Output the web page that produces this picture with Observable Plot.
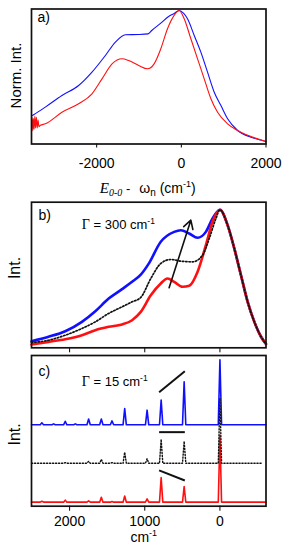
<!DOCTYPE html>
<html><head><meta charset="utf-8">
<script src="https://cdn.jsdelivr.net/npm/d3@7"></script>
<script src="https://cdn.jsdelivr.net/npm/@observablehq/plot@0.6"></script>
<style>
body{margin:0;background:#fff}
#chart{position:relative;width:288px;height:550px;overflow:hidden}
#chart svg{position:absolute;left:0;overflow:visible}
</style></head><body><div id="chart"></div>
<script>
// ---------- Panel a: normalized emission spectra vs E0-0 - ωn (cm-1)
const aTicks = [-2000, 0, 2000];
const aBlueX = [-3540,-3491,-3214,-2821,-2426,-2111,-1794,-1558,-1321,-1006,-786,-700,-485,-300,-170,-50,50,146,304,461,619,777,935,1093,1330,1645,2000];
const aBlueY = [0.21,0.219,0.276,0.363,0.438,0.538,0.663,0.763,0.818,0.82,0.825,0.85,0.905,0.955,0.978,1.0,0.98,0.938,0.813,0.688,0.538,0.388,0.288,0.189,0.101,0.051,0.019];
const aRedX = [-3540,-3525,-3510,-3495,-3480,-3460,-3445,-3425,-3405,-3385,-3365,-3330,-3214,-2821,-2426,-2111,-1874,-1637,-1400,-1243,-1006,-800,-643,-485,-327,-170,-52,67,225,383,540,698,856,1093,1330,1645,2000];
const aRedY = [0.13,0.20,0.10,0.19,0.11,0.21,0.12,0.20,0.12,0.18,0.13,0.14,0.151,0.238,0.301,0.376,0.488,0.60,0.638,0.625,0.588,0.563,0.60,0.713,0.863,0.963,1.0,0.938,0.788,0.638,0.488,0.339,0.238,0.151,0.101,0.056,0.019];

// ---------- Panel b: simulated spectra, Γ = 300 cm-1
const bTicks = [2000, 1000, 0];
const bBlueX = [2507,2280,2058,1836,1658,1480,1302,1169,1053,947,787,609,520,409,297,187,98,0,-102,-191,-280,-369,-458,-547,-613];
const bBlueY = [0.048,0.08,0.12,0.188,0.265,0.357,0.425,0.478,0.53,0.61,0.768,0.84,0.852,0.828,0.797,0.84,0.937,1.0,0.889,0.72,0.526,0.333,0.188,0.08,0.028];
const bRedX = [2507,2280,2058,1836,1658,1480,1302,1169,1053,920,787,697,609,497,409,297,187,98,0,-102,-191,-280,-369,-458,-547,-613];
const bRedY = [0.024,0.043,0.062,0.091,0.128,0.152,0.169,0.2,0.26,0.38,0.466,0.502,0.478,0.442,0.449,0.551,0.744,0.913,1.0,0.889,0.72,0.526,0.333,0.188,0.08,0.028];
const bBlackX = [2507,2280,2058,1836,1658,1480,1302,1169,1053,920,787,653,520,364,231,142,53,0,-102,-191,-280,-369,-458,-547,-613];
const bBlackY = [0.038,0.055,0.091,0.14,0.188,0.249,0.297,0.333,0.365,0.502,0.611,0.64,0.628,0.623,0.671,0.792,0.937,1.0,0.889,0.72,0.526,0.333,0.188,0.08,0.028];
const bArrow = [{x1: 676, y1: 0.435, x2: 387, y2: 0.925}];

// ---------- Panel c: simulated spectra, Γ = 15 cm-1 (peak positions and heights)
const cTicks = [2000, 1000, 0];
const cPeakPos = [2369, 2213, 2058, 1924, 1747, 1578, 1436, 1267, 969, 782, 476, 0];
const cBlueH  = [0.03, 0.015, 0.055, 0.015, 0.09, 0.09, 0.06, 0.25, 0.225, 0.38, 0.66, 1.0];
const cBlackH = [0, 0, 0.01, 0, 0.03, 0.06, 0.01, 0.17, 0.07, 0.37, 0.34, 1.0];
const cRedH   = [0.015, 0, 0.03, 0, 0.02, 0.075, 0.01, 0.095, 0.05, 0.38, 0.24, 1.03];
const cOffsets = {blue: 1.19, black: 0.598, red: 0};
const cSegments = [
  {x1: 809, y1: 1.692, x2: 467, y2: 2.015},
  {x1: 809, y1: 1.077, x2: 467, y2: 1.077},
  {x1: 809, y1: 0.488, x2: 467, y2: 0.334}
];

// ---------- helpers
const BLUE = "#1010ff", RED = "#ff1010";
const SANS = '"Liberation Sans", Arial, Helvetica, sans-serif';
const SERIF = '"Liberation Serif", "Times New Roman", serif';
const zip = (xs, ys) => xs.map((x, i) => ({x, y: ys[i]}));
const PW = 22; // half-width of drawn peaks (style)
function spectrum(heights, offset, xStart, xEnd) {
  const pts = [{x: xStart, y: offset}];
  cPeakPos.forEach((p, i) => {
    if (heights[i] > 0) pts.push({x: p + PW, y: offset}, {x: p, y: offset + heights[i]}, {x: p - PW, y: offset});
  });
  pts.push({x: xEnd, y: offset});
  return pts;
}
function richify(svg, key, parts) {
  svg.querySelectorAll("text").forEach(t => {
    if (t.textContent !== key) return;
    while (t.firstChild) t.removeChild(t.firstChild);
    for (const [s, attrs] of parts) {
      const ts = document.createElementNS("http://www.w3.org/2000/svg", "tspan");
      ts.textContent = s;
      for (const k in attrs) ts.setAttribute(k, attrs[k]);
      t.appendChild(ts);
    }
  });
}
const baseStyle = {background: "transparent", fontFamily: SANS, fontSize: "14px", color: "black"};
const chart = document.getElementById("chart");

// ---------- Panel a
const svgA = Plot.plot({
  width: 288, height: 200,
  marginLeft: 31, marginRight: 22.5, marginTop: 8.5, marginBottom: 56.5,
  style: baseStyle,
  x: {domain: [-3540, 2000], ticks: aTicks, tickSize: 4, tickPadding: 10, tickFormat: d => String(d), label: null},
  y: {domain: [0, 1.011], axis: null},
  marks: [
    Plot.line(zip(aBlueX, aBlueY), {x: "x", y: "y", stroke: BLUE, strokeWidth: 1.1, curve: "monotone-x"}),
    Plot.line(zip(aRedX, aRedY), {x: "x", y: "y", stroke: RED, strokeWidth: 1.1, curve: "monotone-x"}),
    Plot.frame({stroke: "#111", strokeWidth: 1.7}),
    Plot.text(["a)"], {frameAnchor: "top-left", textAnchor: "start", lineAnchor: "top", dx: 6, dy: 3, fontSize: 14}),
    Plot.text(["Norm. Int."], {frameAnchor: "left", rotate: -90, textAnchor: "middle", lineAnchor: "middle", dx: -15, dy: -1, fontSize: 15}),
    Plot.text(["E0-0 - ωn (cm-1)"], {frameAnchor: "bottom", textAnchor: "middle", lineAnchor: "middle", dy: 45, dx: -1, fontSize: 14})
  ]
});
richify(svgA, "E0-0 - ωn (cm-1)", [
  ["E", {"font-family": SERIF, "font-style": "italic", "font-size": 15}],
  ["0-0", {"font-family": SERIF, "font-style": "italic", "font-size": 10, dy: 3}],
  [" -", {dy: -3, "font-size": 13}],
  ["ω", {dx: 9, "font-size": 14}],
  ["n", {"font-size": 10, dy: 3}],
  [" (cm", {dy: -3, "font-size": 14}],
  ["-1", {"font-size": 9, dy: -6}],
  [")", {dy: 6, "font-size": 14}]
]);
svgA.style.top = "0px";
chart.appendChild(svgA);

// ---------- Panel b
const svgB = Plot.plot({
  width: 288, height: 152,
  marginLeft: 31, marginRight: 22.5, marginTop: 1.7, marginBottom: 4.7,
  style: baseStyle,
  x: {domain: [2507, -613], ticks: bTicks, tickSize: 5, tickFormat: () => "", label: null},
  y: {domain: [0, 1.055], axis: null},
  marks: [
    Plot.line(zip(bBlueX, bBlueY), {x: "x", y: "y", stroke: BLUE, strokeWidth: 2.6, curve: "monotone-x"}),
    Plot.line(zip(bRedX, bRedY), {x: "x", y: "y", stroke: RED, strokeWidth: 2.6, curve: "monotone-x"}),
    Plot.line(zip(bBlackX, bBlackY), {x: "x", y: "y", stroke: "#111", strokeWidth: 1.7, strokeDasharray: "1.4,1.9", curve: "monotone-x"}),
    Plot.arrow(bArrow, {x1: "x1", y1: "y1", x2: "x2", y2: "y2", stroke: "#111", strokeWidth: 1.6, headLength: 9}),
    Plot.frame({stroke: "#111", strokeWidth: 1.7}),
    Plot.text(["b)"], {frameAnchor: "top-left", textAnchor: "start", lineAnchor: "top", dx: 7, dy: 8, fontSize: 14}),
    Plot.text(["Γ = 300 cm-1"], {frameAnchor: "top-left", textAnchor: "start", lineAnchor: "middle", dx: 50.3, dy: 22.5, fontSize: 13}),
    Plot.text(["Int."], {frameAnchor: "left", rotate: -90, textAnchor: "middle", lineAnchor: "middle", dx: -16.8, dy: -7, fontSize: 16})
  ]
});
richify(svgB, "Γ = 300 cm-1", [
  ["Γ", {"font-family": SERIF, "font-size": 14}],
  [" = 300 cm", {}],
  ["-1", {"font-size": 8.5, dy: -5}]
]);
svgB.style.top = "200px";
chart.appendChild(svgB);

// ---------- Panel c
const svgC = Plot.plot({
  width: 288, height: 198,
  marginLeft: 31, marginRight: 22.5, marginTop: 3, marginBottom: 44.3,
  style: baseStyle,
  x: {domain: [2507, -613], ticks: cTicks, tickSize: 5, tickPadding: 5, tickFormat: d => String(d), label: null},
  y: {domain: [-0.062, 2.256], axis: null},
  marks: [
    Plot.line(spectrum(cBlueH, cOffsets.blue, 2507, -613), {x: "x", y: "y", stroke: BLUE, strokeWidth: 1.6}),
    Plot.line(spectrum(cRedH, cOffsets.red, 2507, -613), {x: "x", y: "y", stroke: RED, strokeWidth: 1.6}),
    Plot.line(spectrum(cBlackH, cOffsets.black, 2507, -570), {x: "x", y: "y", stroke: "#111", strokeWidth: 1.4, strokeDasharray: "1.2,1.8"}),
    Plot.link(cSegments, {x1: "x1", y1: "y1", x2: "x2", y2: "y2", stroke: "#111", strokeWidth: 2}),
    Plot.frame({stroke: "#111", strokeWidth: 1.7}),
    Plot.text(["c)"], {frameAnchor: "top-left", textAnchor: "start", lineAnchor: "top", dx: 7, dy: 11, fontSize: 14}),
    Plot.text(["Γ = 15 cm-1"], {frameAnchor: "top-left", textAnchor: "start", lineAnchor: "middle", dx: 50.3, dy: 26, fontSize: 13}),
    Plot.text(["Int."], {frameAnchor: "left", rotate: -90, textAnchor: "middle", lineAnchor: "middle", dx: -16.8, dy: 3.6, fontSize: 16}),
    Plot.text(["cm-1"], {frameAnchor: "bottom", textAnchor: "middle", lineAnchor: "middle", dx: -5, dy: 31, fontSize: 14})
  ]
});
richify(svgC, "Γ = 15 cm-1", [
  ["Γ", {"font-family": SERIF, "font-size": 14}],
  [" = 15 cm", {}],
  ["-1", {"font-size": 8.5, dy: -5}]
]);
richify(svgC, "cm-1", [
  ["cm", {}],
  ["-1", {"font-size": 9, dy: -6}]
]);
svgC.style.top = "352px";
chart.appendChild(svgC);
</script></body></html>
